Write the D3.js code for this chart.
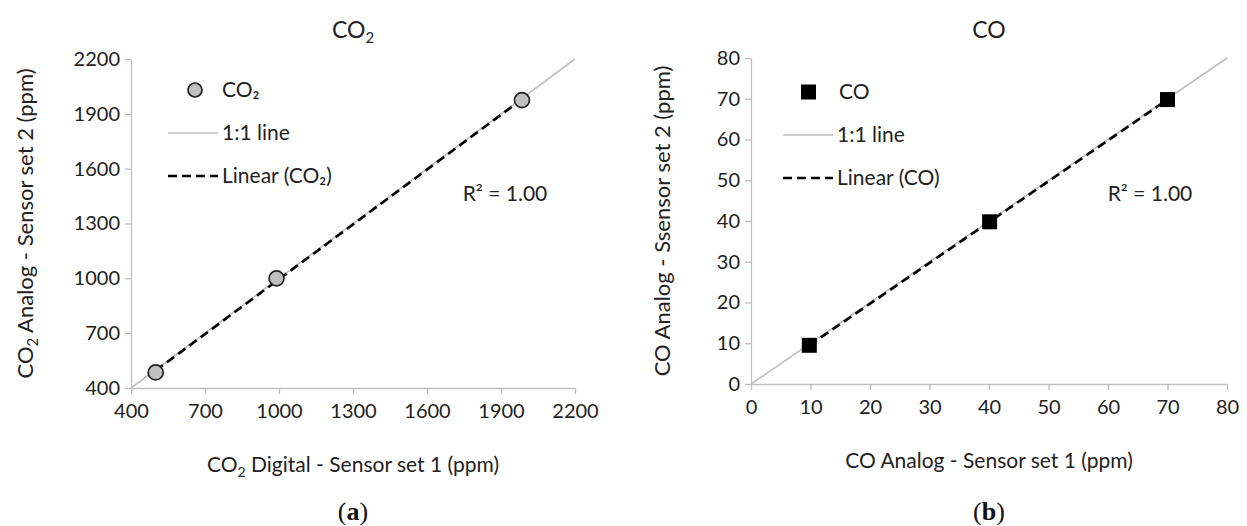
<!DOCTYPE html>
<html>
<head>
<meta charset="utf-8">
<title>Sensor set comparison</title>
<script src="https://cdn.jsdelivr.net/npm/d3@7"></script>
<style>
    body { margin: 0; background: #fff; }
    svg { display: block; font-family: Lato, "Open Sans", sans-serif; }
    .axis path, .axis line { stroke: #bfbfbf; stroke-width: 1.3px; }
    .axis text { fill: #222; font-size: 20px; font-family: Lato, sans-serif; }
</style>
</head>
<body>
<script>
// measured values, sensor set 1 vs sensor set 2
const co2Digital = [500, 990, 1985];
const co2Analog = [485, 1000, 1975];
const co2Ticks = [400, 700, 1000, 1300, 1600, 1900, 2200];

const coSet1 = [9.8, 40.1, 70];
const coSet2 = [9.5, 39.8, 69.8];
const coTicks = [0, 10, 20, 30, 40, 50, 60, 70, 80];

const rSquared = ["1.00", "1.00"];

const svg = d3.select('body').append('svg')
    .attr('width', 1247)
    .attr('height', 526);

const fs = 21;

// least squares fit, drawn over the data range like a spreadsheet trendline
function fit(xs, ys) {
    const mx = d3.mean(xs), my = d3.mean(ys);
    let sxy = 0, sxx = 0;
    xs.forEach((x, i) => { sxy += (x - mx) * (ys[i] - my); sxx += (x - mx) * (x - mx); });
    const b = sxy / sxx;
    return { slope: b, intercept: my - b * mx };
}

function panel(opt) {
    const x = d3.scaleLinear().domain(d3.extent(opt.ticks)).range(opt.xr);
    const y = d3.scaleLinear().domain(d3.extent(opt.ticks)).range(opt.yr);
    const g = svg.append('g');

    g.append('g').attr('class', 'axis')
        .attr('transform', 'translate(0,' + opt.yr[0] + ')')
        .call(d3.axisBottom(x).tickValues(opt.ticks).tickFormat(d3.format('d'))
            .tickSize(6).tickSizeOuter(0).tickPadding(10));
    g.append('g').attr('class', 'axis')
        .attr('transform', 'translate(' + opt.xr[0] + ',0)')
        .call(d3.axisLeft(y).tickValues(opt.ticks).tickFormat(d3.format('d'))
            .tickSize(6).tickSizeOuter(0).tickPadding(5));

    // 1:1 reference line
    const lo = x.domain()[0], hi = x.domain()[1];
    g.append('line')
        .attr('x1', x(lo)).attr('y1', y(lo))
        .attr('x2', x(hi)).attr('y2', y(hi))
        .attr('stroke', '#bfbfbf').attr('stroke-width', 1.6);

    // linear trendline
    const f = fit(opt.xs, opt.ys);
    const x0 = d3.min(opt.xs), x1 = d3.max(opt.xs);
    g.append('line')
        .attr('x1', x(x0)).attr('y1', y(f.slope * x0 + f.intercept))
        .attr('x2', x(x1)).attr('y2', y(f.slope * x1 + f.intercept))
        .attr('stroke', '#000').attr('stroke-width', 2.6)
        .attr('stroke-dasharray', '9,5');

    // points
    const pts = opt.xs.map((v, i) => [v, opt.ys[i]]);
    if (opt.marker === 'circle') {
        g.selectAll('circle.pt').data(pts).enter().append('circle')
            .attr('class', 'pt')
            .attr('cx', d => x(d[0])).attr('cy', d => y(d[1]))
            .attr('r', 7.5)
            .attr('fill', '#c0c0c0').attr('stroke', '#222').attr('stroke-width', 1.7);
    } else {
        g.selectAll('rect.pt').data(pts).enter().append('rect')
            .attr('class', 'pt')
            .attr('x', d => x(d[0]) - 7.5).attr('y', d => y(d[1]) - 7.5)
            .attr('width', 15).attr('height', 15)
            .attr('fill', '#000');
    }

    // legend
    const lg = g.append('g').attr('transform', 'translate(' + opt.legend[0] + ',' + opt.legend[1] + ')');
    if (opt.marker === 'circle') {
        lg.append('circle').attr('cx', 27).attr('cy', 0).attr('r', 7)
            .attr('fill', '#c0c0c0').attr('stroke', '#222').attr('stroke-width', 1.7);
    } else {
        lg.append('rect').attr('x', 18).attr('y', -7.5).attr('width', 15).attr('height', 15)
            .attr('fill', '#000');
    }
    lg.append('line').attr('x1', 0).attr('x2', 50).attr('y1', 43).attr('y2', 43)
        .attr('stroke', '#bfbfbf').attr('stroke-width', 1.6);
    lg.append('line').attr('x1', 0).attr('x2', 50).attr('y1', 86).attr('y2', 86)
        .attr('stroke', '#000').attr('stroke-width', 2.6).attr('stroke-dasharray', '9,5');
    const labels = [opt.name, '1:1 line', 'Linear (' + opt.name + ')'];
    lg.selectAll('text').data(labels).enter().append('text')
        .attr('x', (d, i) => i === 0 ? opt.nameX : 54)
        .attr('y', (d, i) => i * 43)
        .attr('dy', '0.35em')
        .attr('font-size', fs).attr('fill', '#222')
        .text(d => d);

    g.append('text')
        .attr('x', opt.r2[0]).attr('y', opt.r2[1])
        .attr('text-anchor', 'middle').attr('dy', '0.35em')
        .attr('font-size', fs).attr('fill', '#222')
        .text('R² = ' + opt.r2Text);

    // chart title
    const cx = (opt.xr[0] + opt.xr[1]) / 2;
    const t = g.append('text').attr('x', cx).attr('y', 38)
        .attr('text-anchor', 'middle').attr('font-size', 23).attr('fill', '#222');
    t.append('tspan').text(opt.title[0]);
    if (opt.title[1]) t.append('tspan').attr('font-size', 15).attr('dy', 5).text(opt.title[1]);

    // axis titles
    const xt = g.append('text').attr('x', cx).attr('y', opt.xTitleY)
        .attr('text-anchor', 'middle').attr('font-size', fs).attr('fill', '#222');
    opt.xTitle.forEach(p => xt.append('tspan').attr('font-size', p.sub ? 14 : fs)
        .attr('dy', p.sub ? 5 : (p.after ? -5 : null)).text(p.t));

    const ymid = (opt.yr[0] + opt.yr[1]) / 2;
    const yt = g.append('text')
        .attr('transform', 'translate(' + opt.yTitleX + ',' + ymid + ') rotate(-90)')
        .attr('text-anchor', 'middle').attr('font-size', 22).attr('fill', '#222');
    opt.yTitle.forEach(p => yt.append('tspan').attr('font-size', p.sub ? 15 : 22)
        .attr('dy', p.sub ? 5 : (p.after ? -5 : null)).text(p.t));

    // panel caption
    const cap = g.append('text').attr('x', cx).attr('y', 520)
        .attr('text-anchor', 'middle').attr('font-size', 26).attr('fill', '#111')
        .attr('font-family', '"Liberation Serif", serif');
    cap.append('tspan').text('(');
    cap.append('tspan').attr('font-weight', 'bold').text(opt.caption);
    cap.append('tspan').text(')');
}

panel({
    ticks: co2Ticks, xs: co2Digital, ys: co2Analog,
    xr: [131, 575], yr: [388, 59],
    marker: 'circle', name: 'CO₂', nameX: 54,
    legend: [168, 90], r2: [505, 194], r2Text: rSquared[0],
    title: ['CO', '2'],
    xTitle: [{ t: 'CO' }, { t: '2', sub: true }, { t: ' Digital - Sensor set 1 (ppm)', after: true }],
    xTitleY: 472,
    yTitle: [{ t: 'CO' }, { t: '2', sub: true }, { t: ' Analog - Sensor set 2 (ppm)', after: true }],
    yTitleX: 33,
    caption: 'a'
});

panel({
    ticks: coTicks, xs: coSet1, ys: coSet2,
    xr: [751, 1227], yr: [384, 58],
    marker: 'square', name: 'CO', nameX: 56,
    legend: [783, 92], r2: [1150, 194], r2Text: rSquared[1],
    title: ['CO'],
    xTitle: [{ t: 'CO Analog - Sensor set 1 (ppm)' }],
    xTitleY: 468,
    yTitle: [{ t: 'CO Analog - Ssensor set 2 (ppm)' }],
    yTitleX: 670,
    caption: 'b'
});
</script>
</body>
</html>
